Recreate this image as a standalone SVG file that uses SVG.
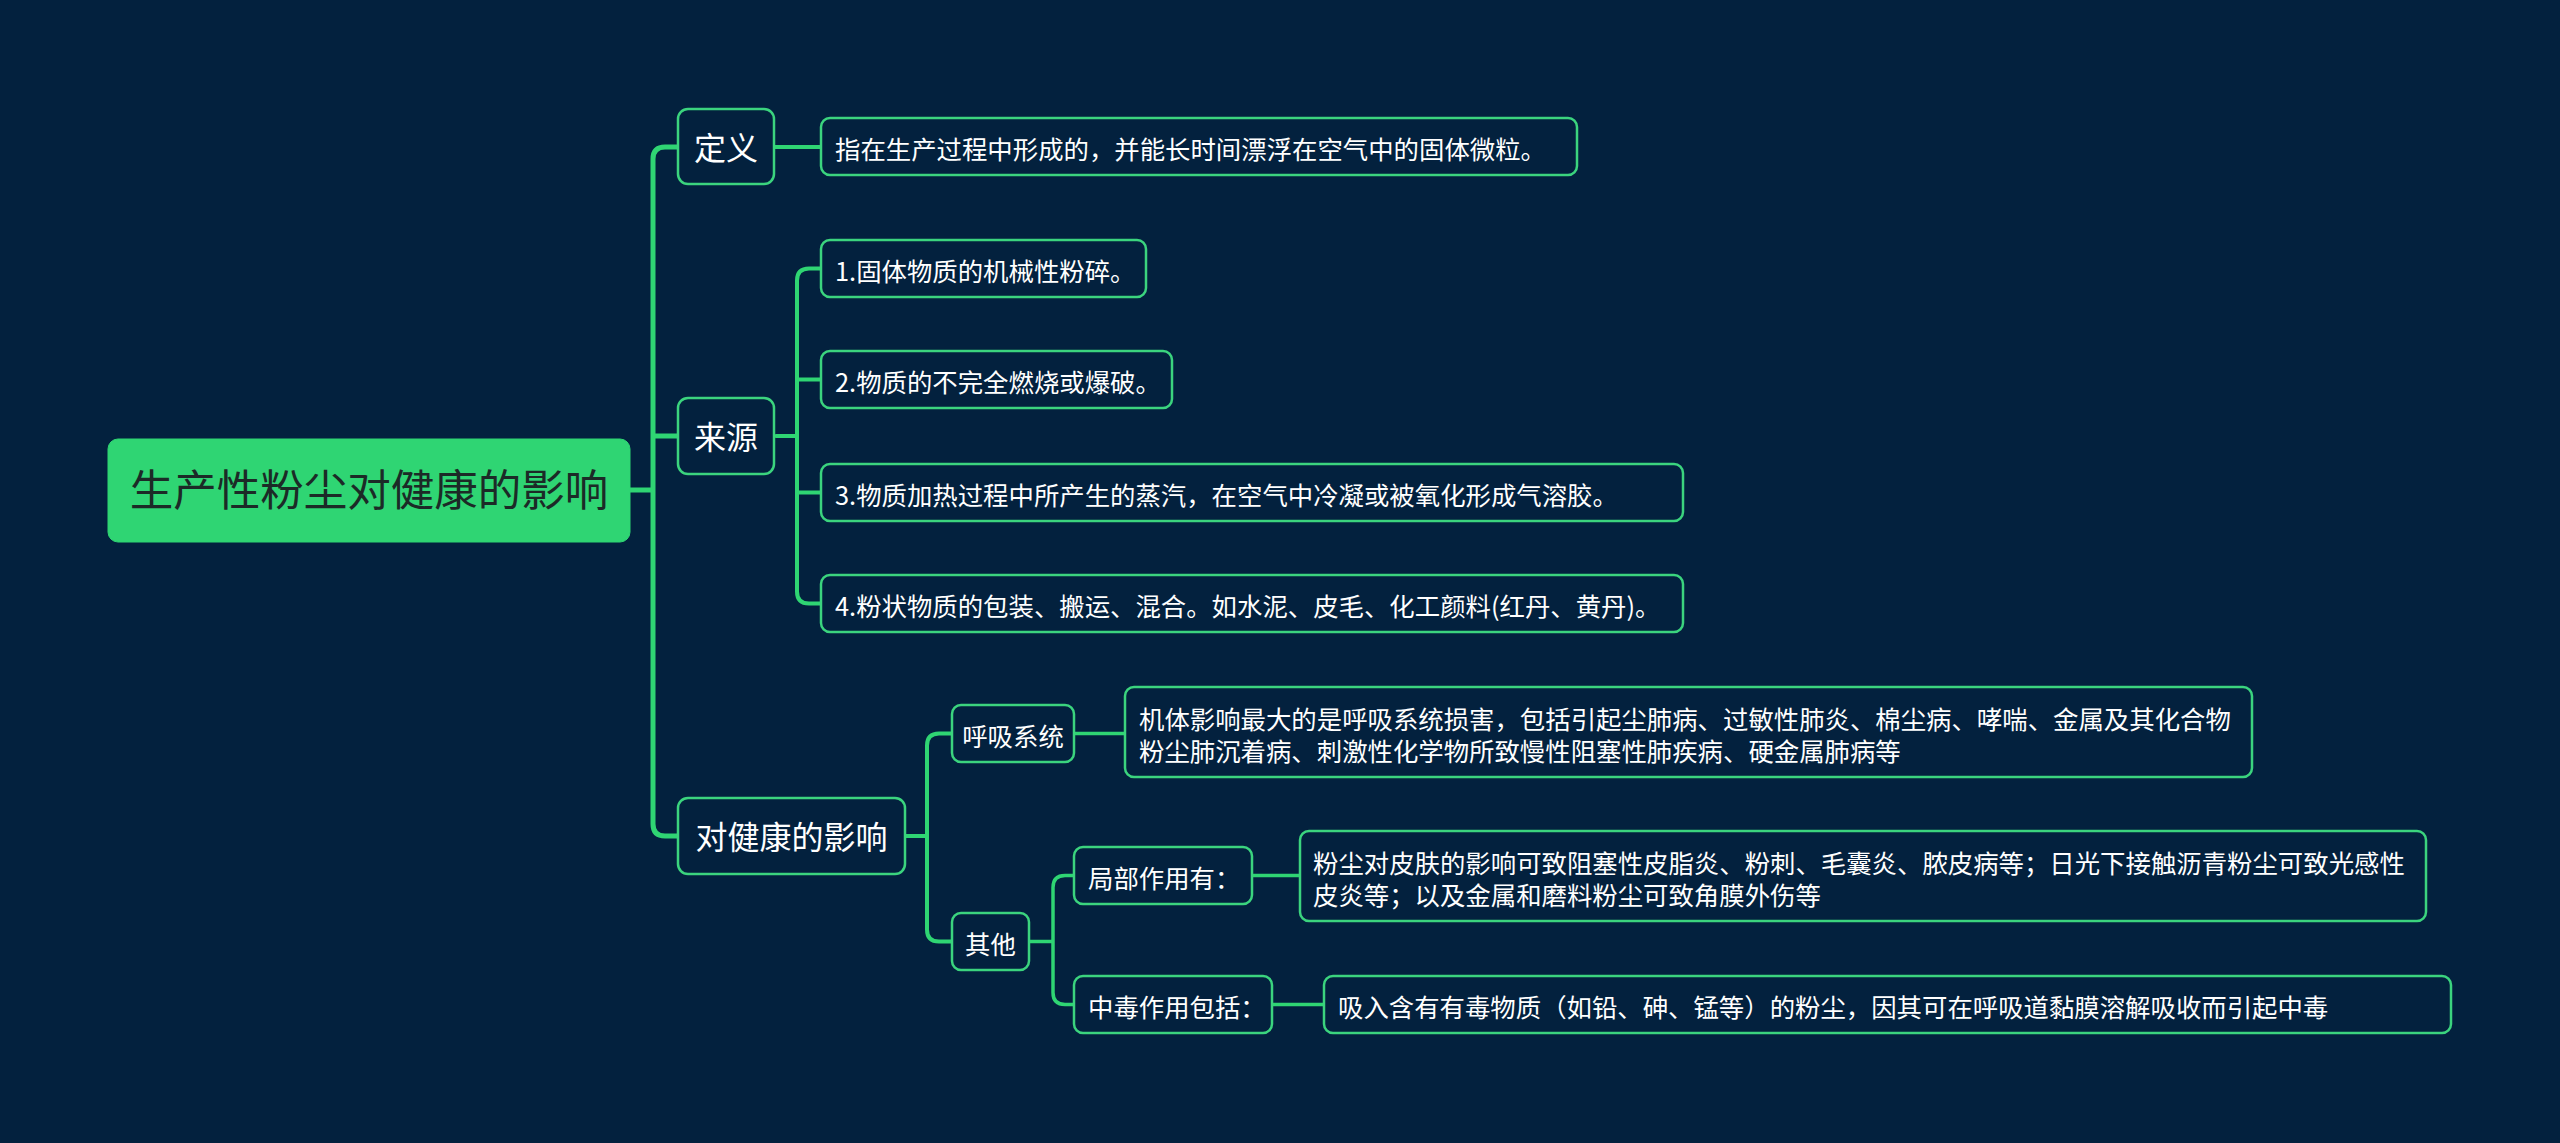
<svg xmlns="http://www.w3.org/2000/svg" width="2560" height="1143" viewBox="0 0 2560 1143">
<style>
.bg{fill:#03213e}
.node{fill:#03213e;stroke:#3bd47e;stroke-width:2.5}
.t{font-family:"Noto Sans CJK SC","Noto Sans",sans-serif;fill:#ffffff}
.l1{font-size:32px}
.l2{font-size:25.4px}
.root-rect{fill:#2fd573;stroke:#2fd573}
.root-t{font-size:43.5px;fill:#1c2a27}
.c{fill:none;stroke:#2fd573;stroke-linecap:round;stroke-linejoin:round}
.c1{stroke-width:5}
.c2{stroke-width:4}
.c3{stroke-width:3.5}
</style>
<rect class="bg" x="0" y="0" width="2560" height="1143"/>
<g id="connectors">
<path class="c c1" d="M630,490 H653 M678,147 H665 Q653,147 653,159 V824 Q653,836 665,836 H678 M653,436 H678"/>
<path class="c c2" d="M774,147 H821"/>
<path class="c c2" d="M776,436 H797 M821,268.5 H809 Q797,268.5 797,280.5 V591.5 Q797,603.5 809,603.5 H821 M797,379.5 H821 M797,492.5 H821"/>
<path class="c c2" d="M905,836 H927 M952,733.5 H939 Q927,733.5 927,745.5 V929.5 Q927,941.5 939,941.5 H952"/>
<path class="c c3" d="M1074,733.5 H1125"/>
<path class="c c3" d="M1029,941.5 H1053 M1074,875.5 H1065 Q1053,875.5 1053,887.5 V992.5 Q1053,1004.5 1065,1004.5 H1074"/>
<path class="c c3" d="M1252,875.5 H1300 M1272,1004.5 H1324"/>
</g>
<g id="root">
<rect class="root-rect" x="108" y="439" width="522" height="103" rx="10"/>
<text class="t root-t" x="369" y="506" text-anchor="middle">生产性粉尘对健康的影响</text>
</g>
<g id="n-dingyi">
<rect class="node" x="678" y="109" width="96" height="75" rx="10"/>
<text class="t l1" x="726" y="160" text-anchor="middle">定义</text>
</g>
<g id="n-dingyi-d">
<rect class="node" x="821" y="118" width="756" height="57" rx="9"/>
<text class="t l2" x="835" y="158.5">指在生产过程中形成的，并能长时间漂浮在空气中的固体微粒。</text>
</g>
<g id="n-laiyuan">
<rect class="node" x="678" y="398" width="96" height="76" rx="10"/>
<text class="t l1" x="726" y="449" text-anchor="middle">来源</text>
</g>
<g id="n-s1">
<rect class="node" x="821" y="240" width="325" height="57" rx="9"/>
<text class="t l2" x="835" y="280.5">1.固体物质的机械性粉碎。</text>
</g>
<g id="n-s2">
<rect class="node" x="821" y="351" width="351" height="57" rx="9"/>
<text class="t l2" x="835" y="391.5">2.物质的不完全燃烧或爆破。</text>
</g>
<g id="n-s3">
<rect class="node" x="821" y="464" width="862" height="57" rx="9"/>
<text class="t l2" x="835" y="504.5">3.物质加热过程中所产生的蒸汽，在空气中冷凝或被氧化形成气溶胶。</text>
</g>
<g id="n-s4">
<rect class="node" x="821" y="575" width="862" height="57" rx="9"/>
<text class="t l2" x="835" y="615.5">4.粉状物质的包装、搬运、混合。如水泥、皮毛、化工颜料(红丹、黄丹)。</text>
</g>
<g id="n-health">
<rect class="node" x="678" y="798" width="227" height="76" rx="10"/>
<text class="t l1" x="791.5" y="849" text-anchor="middle">对健康的影响</text>
</g>
<g id="n-huxi">
<rect class="node" x="952" y="705" width="122" height="57" rx="9"/>
<text class="t l2" x="1013" y="745.5" text-anchor="middle">呼吸系统</text>
</g>
<g id="n-huxi-d">
<rect class="node" x="1125" y="687" width="1127" height="90" rx="9"/>
<text class="t l2" x="1139" y="729">机体影响最大的是呼吸系统损害，包括引起尘肺病、过敏性肺炎、棉尘病、哮喘、金属及其化合物</text>
<text class="t l2" x="1139" y="761">粉尘肺沉着病、刺激性化学物所致慢性阻塞性肺疾病、硬金属肺病等</text>
</g>
<g id="n-qita">
<rect class="node" x="952" y="913" width="77" height="57" rx="9"/>
<text class="t l2" x="990.5" y="953.5" text-anchor="middle">其他</text>
</g>
<g id="n-jubu">
<rect class="node" x="1074" y="847" width="178" height="57" rx="9"/>
<text class="t l2" x="1088" y="887.5">局部作用有：</text>
</g>
<g id="n-jubu-d">
<rect class="node" x="1300" y="831" width="1126" height="90" rx="9"/>
<text class="t l2" x="1313" y="873">粉尘对皮肤的影响可致阻塞性皮脂炎、粉刺、毛囊炎、脓皮病等；日光下接触沥青粉尘可致光感性</text>
<text class="t l2" x="1313" y="905">皮炎等；以及金属和磨料粉尘可致角膜外伤等</text>
</g>
<g id="n-zhongdu">
<rect class="node" x="1074" y="976" width="198" height="57" rx="9"/>
<text class="t l2" x="1088" y="1016.5">中毒作用包括：</text>
</g>
<g id="n-zhongdu-d">
<rect class="node" x="1324" y="976" width="1127" height="57" rx="9"/>
<text class="t l2" x="1338" y="1016.5">吸入含有有毒物质（如铅、砷、锰等）的粉尘，因其可在呼吸道黏膜溶解吸收而引起中毒</text>
</g>
</svg>
